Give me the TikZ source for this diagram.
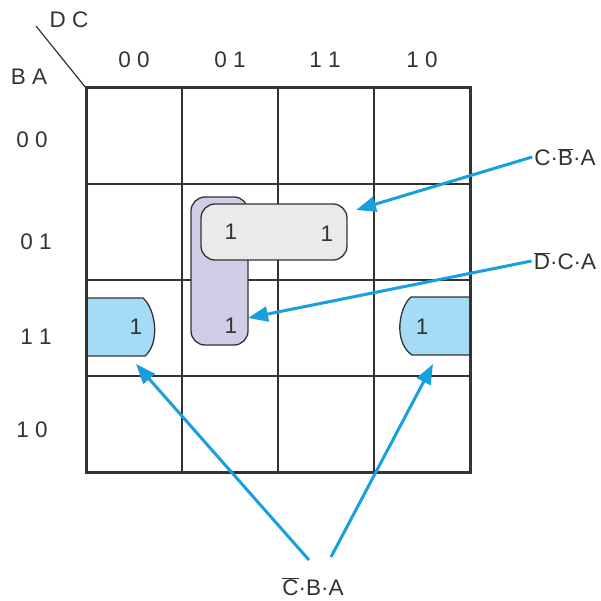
\documentclass[tikz,border=0pt]{standalone}
\usepackage{fontspec}
\setmainfont{Liberation Sans}
\usetikzlibrary{arrows.meta}
\definecolor{arrowblue}{HTML}{189FDD}
\definecolor{cellblue}{HTML}{A6DBF5}
\definecolor{lav}{HTML}{D1CDE6}
\definecolor{pale}{HTML}{E9EAEA}
\definecolor{ink}{HTML}{333333}
\newcommand\ovl[1]{$\overline{\mbox{#1}}$}
\tikzset{
  lbl/.style={font=\fontsize{22.5}{26}\selectfont, text=ink, inner sep=0pt},
  one/.style={font=\fontsize{22.5}{26}\selectfont, text=ink, inner sep=0pt},
  grp/.style={draw=ink, line width=1.3pt},
  pointer/.style={draw=arrowblue, line width=3pt, -{Triangle[length=20pt,width=15pt]}},
  thin grid/.style={draw=ink, line width=1.3pt},
}
\begin{document}
\begin{tikzpicture}[x=1pt,y=-1pt]
\useasboundingbox (0,0) rectangle (600,601);

% inner grid lines
\foreach \v in {182,278,374} {
  \draw[thin grid] (\v,88) -- (\v,472);
  \draw[thin grid] (86,\v+2) -- (470,\v+2);
}

% groups of ones
\draw[grp, fill=lav, rounded corners=14pt] (191,197) rectangle (248,345);
\draw[grp, fill=pale, rounded corners=14pt] (201,204) rectangle (347,260);
\draw[grp, fill=cellblue] (86,298) -- (143,298) .. controls (155,308) and (161,342) .. (145,356) -- (86,356) -- cycle;
\draw[grp, fill=cellblue] (470,297) -- (411,297) .. controls (399,307) and (393,342) .. (412,355) -- (470,355) -- cycle;

% outer frame
\draw[draw=ink, line width=3pt] (86,88) rectangle (470,472);

% corner label
\coordinate (dl1) at (36,26);
\coordinate (dl2) at (86,88);
\draw[draw=ink, line width=1.2pt] (dl1) -- (dl2);
\node[lbl] (dc) at (69,20) {D C};
\node[lbl] (ba) at (29,77) {B A};

% column headings
\node[lbl] (c00) at (134,60) {0 0};
\node[lbl] (c01) at (230,60) {0 1};
\node[lbl] (c11) at (325,60) {1 1};
\node[lbl] (c10) at (422,60) {1 0};

% row headings
\node[lbl] (r00) at (32,140) {0 0};
\node[lbl] (r01) at (36,242) {0 1};
\node[lbl] (r11) at (36,337) {1 1};
\node[lbl] (r10) at (32,430) {1 0};

% ones
\node[one] (m5) at (231,232) {1};
\node[one] (m13) at (327,234) {1};
\node[one] (m7) at (231,326) {1};
\node[one] (m3) at (136,327) {1};
\node[one] (m11) at (422,327) {1};

% term labels
\node[lbl] (t1) at (565,157) {C·\ovl{B}·A};
\node[lbl] (t2) at (565,261) {\ovl{D}·C·A};
\node[lbl] (t3) at (313,587) {\ovl{C}·B·A};

% arrow targets
\coordinate (a1) at (356,210);
\coordinate (a2) at (248,318);
\coordinate (a3) at (136,364);
\coordinate (a4) at (433,364);
\coordinate (s3) at (309,560);
\coordinate (s4) at (331,557);

\draw[pointer] (t1.west) ++(-2,0) -- (a1);
\draw[pointer] (t2.west) ++(-2,0) -- (a2);
\draw[pointer] (s3) -- (a3);
\draw[pointer] (s4) -- (a4);
\end{tikzpicture}
\end{document}
